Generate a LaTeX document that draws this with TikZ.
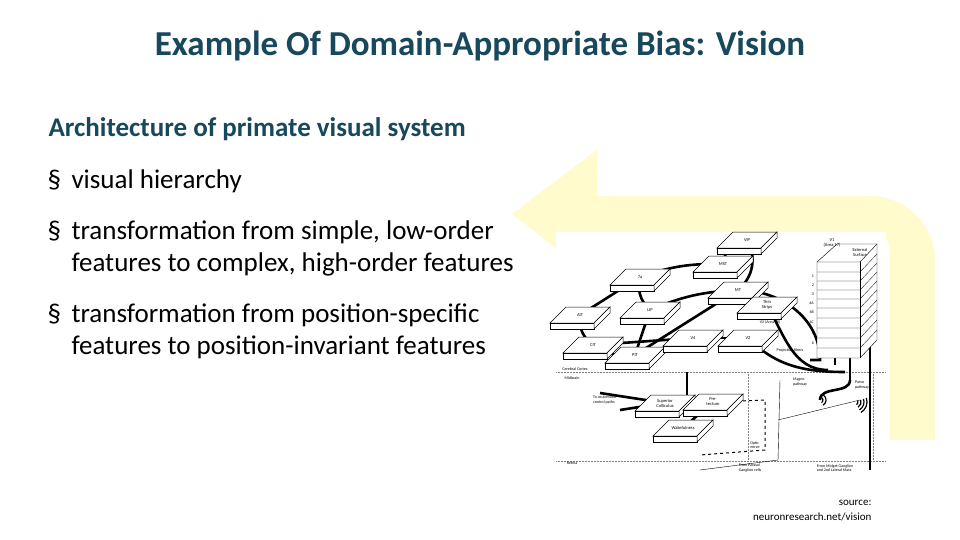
\documentclass[tikz,border=0pt]{standalone}
\usepackage{fontspec}
\setmainfont{Carlito}
\usetikzlibrary{calc}
\definecolor{ttl}{RGB}{23,72,92}
\definecolor{pale}{RGB}{255,251,204}
\begin{document}
\begin{tikzpicture}[x=1pt,y=-1pt,
  body/.style={anchor=base west,font=\fontsize{27}{30}\selectfont},
  lab/.style={font=\fontsize{4.5}{5}\selectfont,align=center,inner sep=0pt},
  sm/.style={font=\fontsize{4}{4.5}\selectfont,align=left,inner sep=0pt},
  fib/.style={line width=2.6pt,black},
  thin/.style={densely dotted,gray,line width=0.5pt}]
\useasboundingbox (0,0) rectangle (960,540);
\fill[white] (0,0) rectangle (960,540);
% yellow arrow
\fill[pale] (512,214) -- (597,150) -- (597,196) -- (870,196)
  .. controls (906,196) and (935,225) .. (935,261) -- (935,440) -- (890,440) -- (890,250)
  .. controls (890,240) and (882,232) .. (872,232) -- (597,232) -- (597,280) -- cycle;
% texts
\node[anchor=base,text=ttl,font=\bfseries\fontsize{35}{38}\selectfont] (title) at (480,56) {Example Of Domain-Appropriate Bias: Vision};
\node[body,font=\bfseries\fontsize{27}{30}\selectfont,text=ttl] (arch) at (45,137) {Architecture of primate visual system};
\node[body] (b1s) at (44,189) {§}; \node[body] (b1) at (68,189) {visual hierarchy};
\node[body] (b2s) at (44,239) {§}; \node[body] (b2) at (68,239) {transformation from simple, low-order};
\node[body] (b2b) at (68,271) {features to complex, high-order features};
\node[body] (b3s) at (44,322) {§}; \node[body] (b3) at (68,322) {transformation from position-specific};
\node[body] (b3b) at (68,354) {features to position-invariant features};
\node[anchor=base east,font=\fontsize{11}{12}\selectfont,align=right] (src1) at (875,505) {source:};
\node[anchor=base east,font=\fontsize{11}{12}\selectfont] (src2) at (875,520) {neuronresearch.net/vision};
% diagram background
\fill[white] (556,232) rectangle (886,465);
\draw[thin] (556,372) -- (886,372);
\draw[thin] (556,461) -- (886,461);
\draw[thin] (748,372) -- (748,461);
\draw[thin] (873,372) -- (873,461);
% named anchor coordinates of areas
\foreach \n/\x/\y in {VIP/747/240,MST/723/264,MT/738/290,A7/640/277,LIP/650/310,AIT/580/315,CIT/593/345,PIT/635/355,V4/693/338,TS/767/305,V2/748/338,SC/665/403,PT/713/402,WK/683/428,V1/845/310}
  \coordinate (\n) at (\x,\y);
% fibres
\draw[fib] (AIT) -- (A7); \draw[fib] (A7) to[bend left=10] (MST);
\draw[fib] (LIP) to[bend left=10] (MT); \draw[fib] (LIP) -- (PIT);
\draw[fib] (CIT) -- (V4); \draw[fib] (PIT) -- (MT);
\draw[fib] (AIT) to[bend right=30] (CIT); \draw[fib] (CIT) to[bend right=20] (PIT);
\draw[fib] (MST) to[bend left=40] (VIP); \draw[fib] (VIP) to[bend left=40] (MT);
\draw[fib] (A7) to[bend right=30] (LIP);
\draw[fib] (MT) to[out=0,in=90] (820,360) -- (810,360);
\draw[fib] (TS) to[out=-60,in=180] (828,370);
\draw[fib] (V2) to[out=-45,in=180] (845,372);
\draw[fib] (V4) -- (V2);
\draw[fib] (835,295) -- (835,365); \draw[fib] (850,295) -- (850,380);
\draw[fib] (870,300) -- (870,470);
\draw[fib] (850,380) to[out=-90,in=90] (820,400);
\draw[fib] (SC) -- (PT); \draw[fib] (SC) -- (600,393); \draw[fib] (SC) -- (620,410);
\draw[fib] (687,372) -- (687,395); \draw[fib] (WK) -- (PT);
\draw[line width=1pt,dashed] (PT) -- (765,400) -- (765,450) -- (700,455);
\draw[line width=0.4pt] (780,380) -- (778,460) -- (700,470);
\draw[line width=0.4pt] (778,420) -- (860,400);
% receptive-field arcs
\foreach \r in {3,6,9,12} \draw[line width=1.2pt] (855,402) ++(-20:\r) arc[start angle=-20,end angle=60,radius=\r];
\foreach \r in {3,6} \draw[line width=1.2pt] (820,400) ++(-60:\r) arc[start angle=-60,end angle=60,radius=\r];
% V1 stack
\draw[fill=white] (817,262) -- (837,244) -- (877,244) -- (877,340) -- (860,358) -- (817,358) -- cycle;
\draw (817,262) -- (860,262) -- (877,244); \draw (860,262) -- (860,358);
\foreach \y in {272,281,290,299,308,318,328,338,348} \draw[line width=0.3pt] (817,\y) -- (860,\y) -- (877,\y-18);
\node[lab] (v1l) at (832,243) {V1\\(Area 17)};
\node[lab] (es) at (860,252) {External\\Surface};
\foreach \t/\y in {1/276,2/285,3/294,4A/303,4B/312,4C/322,5/333,6/343} \node[sm,anchor=east] at (814,\y) {\t};
% bricks
\foreach \n/\t in {VIP/VIP,MST/MST,MT/MT,A7/7a,LIP/LIP,AIT/AIT,CIT/CIT,PIT/PIT,V4/V4,TS/Thin\\Strips,V2/V2,SC/Superior\\Colliculus,PT/Pre-\\tectum,WK/Wakefulness}{
  \draw[fill=white,line width=0.5pt] ($(\n)+(-30,8)$) -- ($(\n)+(-14,-8)$) -- ($(\n)+(30,-8)$) -- ($(\n)+(14,8)$) -- cycle;
  \draw[fill=white,line width=0.5pt] ($(\n)+(-30,8)$) -- ($(\n)+(14,8)$) -- ($(\n)+(14,14)$) -- ($(\n)+(-30,14)$) -- cycle;
  \draw[fill=white,line width=0.5pt] ($(\n)+(14,8)$) -- ($(\n)+(30,-8)$) -- ($(\n)+(30,-2)$) -- ($(\n)+(14,14)$) -- cycle;
  \node[lab] at (\n) {\t};}
\node[sm] (cc) at (575,369) {Cerebral Cortex};
\node[sm] (mb) at (572,378) {Midbrain};
\node[sm] (ret) at (572,463) {Retina};
\node[sm] (pf) at (790,350) {Projection fibers};
\node[sm] (v2l) at (770,322) {V2 (Area 18)};
\node[sm] (mp) at (800,382) {Magno\\pathway};
\node[sm] (pp) at (862,385) {Parvo\\pathway};
\node[sm] (on) at (750,468) {From Parasol\\Ganglion cells};
\node[sm] (om) at (835,468) {From Midget Ganglion\\and 2nd Lateral Mass};
\node[sm] (ocl) at (605,400) {To oculomotor\\control paths};
\node[sm] (ocn) at (755,445) {Optic\\nerve};
\end{tikzpicture}
\end{document}
